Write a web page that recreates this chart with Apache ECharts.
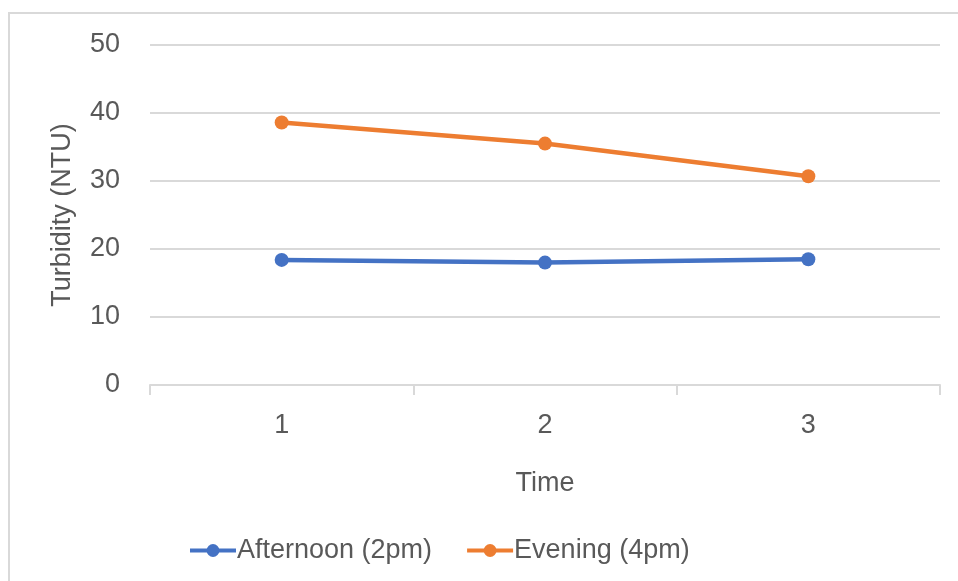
<!DOCTYPE html>
<html>
<head>
<meta charset="utf-8">
<script src="https://cdn.jsdelivr.net/npm/echarts@6/dist/echarts.min.js"></script>
<style>html,body{margin:0;padding:0;background:#fff;}#c{width:958px;height:581px;}</style>
</head>
<body>
<div id="c"></div>
<script>
const categories = ['1', '2', '3'];
const afternoon = [18.4, 18.0, 18.5];
const evening = [38.6, 35.5, 30.7];
const seriesNames = ['Afternoon (2pm)', 'Evening (4pm)'];
const yTicks = [0, 10, 20, 30, 40, 50];

const FONT = 'Liberation Sans';
const TXT = '#595959';
const FS = 27;
const chart = echarts.init(document.getElementById('c'), null, {renderer: 'canvas'});
chart.setOption({
  animation: false,
  backgroundColor: '#fff',
  graphic: [{
    type: 'rect', shape: {x: 9, y: 13, width: 980, height: 620},
    style: {fill: 'none', stroke: '#d9d9d9', lineWidth: 2}, silent: true, z: -1
  }],
  grid: {left: 150, right: 18, top: 45, bottom: 196, containLabel: false},
  legend: {
    bottom: 12, left: 183,
    itemWidth: 46, itemHeight: 16, itemGap: 33,
    lineStyle: {width: 4},
    textStyle: {fontFamily: FONT, fontSize: FS, color: TXT, padding: [0, 0, 0, -4]},
    data: seriesNames
  },
  xAxis: {
    type: 'category', data: categories, boundaryGap: true,
    name: 'Time', nameLocation: 'middle', nameGap: 85,
    nameTextStyle: {fontFamily: FONT, fontSize: FS, color: TXT},
    axisLine: {lineStyle: {color: '#d9d9d9', width: 2}},
    axisTick: {show: true, length: 10, lineStyle: {color: '#d9d9d9', width: 2}},
    axisLabel: {fontFamily: FONT, fontSize: FS, color: TXT, margin: 27}
  },
  yAxis: {
    type: 'value', min: yTicks[0], max: yTicks[yTicks.length - 1], interval: 10,
    name: 'Turbidity (NTU)', nameLocation: 'middle', nameGap: 74,
    nameTextStyle: {fontFamily: FONT, fontSize: FS, color: TXT},
    axisLine: {show: false}, axisTick: {show: false},
    axisLabel: {fontFamily: FONT, fontSize: FS, color: TXT, margin: 30},
    splitLine: {lineStyle: {color: '#d9d9d9', width: 2}}
  },
  series: [
    {name: seriesNames[0], type: 'line', data: afternoon, symbol: 'circle', symbolSize: 14,
     lineStyle: {width: 4.5, color: '#4472C4'}, itemStyle: {color: '#4472C4'}},
    {name: seriesNames[1], type: 'line', data: evening, symbol: 'circle', symbolSize: 14,
     lineStyle: {width: 4.5, color: '#ED7D31'}, itemStyle: {color: '#ED7D31'}}
  ]
});
</script>
</body>
</html>
